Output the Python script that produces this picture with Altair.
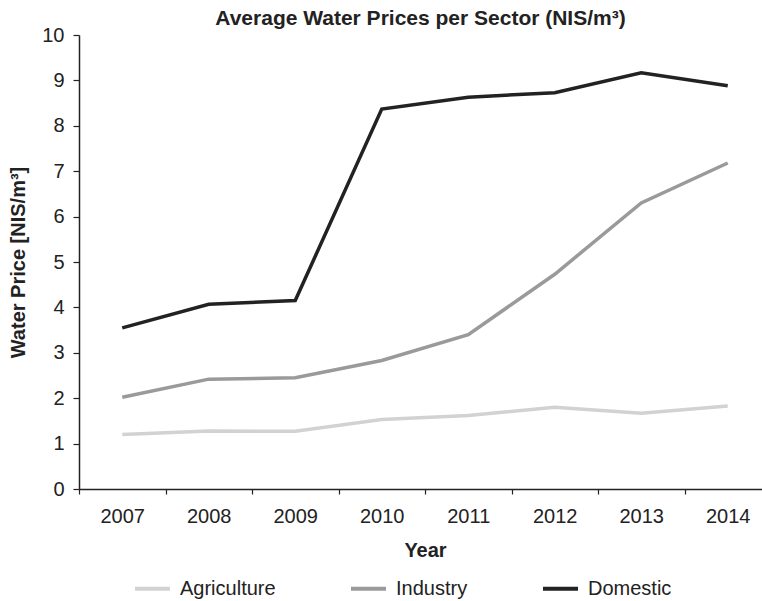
import altair as alt
import pandas as pd

years = ["2007", "2008", "2009", "2010", "2011", "2012", "2013", "2014"]
agriculture = [1.20, 1.28, 1.27, 1.53, 1.62, 1.80, 1.67, 1.83]
industry = [2.02, 2.42, 2.45, 2.83, 3.40, 4.73, 6.30, 7.18]
domestic = [3.55, 4.07, 4.15, 8.37, 8.63, 8.73, 9.17, 8.88]
sectors = ["Agriculture", "Industry", "Domestic"]
colors = ["#d2d2d2", "#9a9a9a", "#222222"]

rows = []
for name, vals in zip(sectors, [agriculture, industry, domestic]):
    for y, v in zip(years, vals):
        rows.append({"Year": y, "Sector": name, "Price": v})
df = pd.DataFrame(rows)

FONT = "Liberation Sans"

chart = alt.Chart(df).mark_line(strokeWidth=3.5, strokeJoin="miter").encode(
    x=alt.X("Year:O", sort=years,
            scale=alt.Scale(type="band", paddingInner=0, paddingOuter=0, range=[0, 692]),
            axis=alt.Axis(title="Year", tickBand="extent", labelAngle=0, labelFontSize=20,
                          labelFont=FONT, labelColor="#222", labelPadding=12,
                          titleFont=FONT, titleFontSize=20, titleFontWeight="bold",
                          titleColor="#222", titlePadding=14, tickSize=5, tickColor="#222",
                          domainColor="#222", domainWidth=1.5, tickWidth=1.2, grid=False)),
    y=alt.Y("Price:Q", scale=alt.Scale(domain=[0, 10], nice=False),
            axis=alt.Axis(title="Water Price [NIS/m³]", values=list(range(0, 11)),
                          labelFontSize=20, labelFont=FONT, labelColor="#222", labelPadding=9,
                          titleFont=FONT, titleFontSize=20, titleFontWeight="bold",
                          titleColor="#222", titlePadding=13, tickSize=6, tickColor="#222",
                          domainColor="#222", domainWidth=1.5, tickWidth=1.2, grid=False)),
    color=alt.Color("Sector:N", sort=sectors,
                    scale=alt.Scale(domain=sectors, range=colors),
                    legend=alt.Legend(title=None, orient="none", direction="horizontal",
                                      legendX=54, legendY=534, symbolType="stroke",
                                      symbolSize=1225, symbolStrokeWidth=4,
                                      labelFontSize=20, labelFont=FONT, labelColor="#222",
                                      labelOffset=8, columnPadding=67, padding=0)),
).properties(
    width=683,
    height=454,
    title=alt.TitleParams(text="Average Water Prices per Sector (NIS/m³)", fontSize=21,
                          font=FONT, fontWeight="bold", color="#222", anchor="middle",
                          offset=8, dy=12),
    autosize=alt.AutoSizeParams(type="none"),
    padding={"left": 79, "top": 35, "right": 0, "bottom": 112},
).configure_view(stroke=None)

chart.save("out.html", embed_options={"renderer": "svg", "actions": False})
